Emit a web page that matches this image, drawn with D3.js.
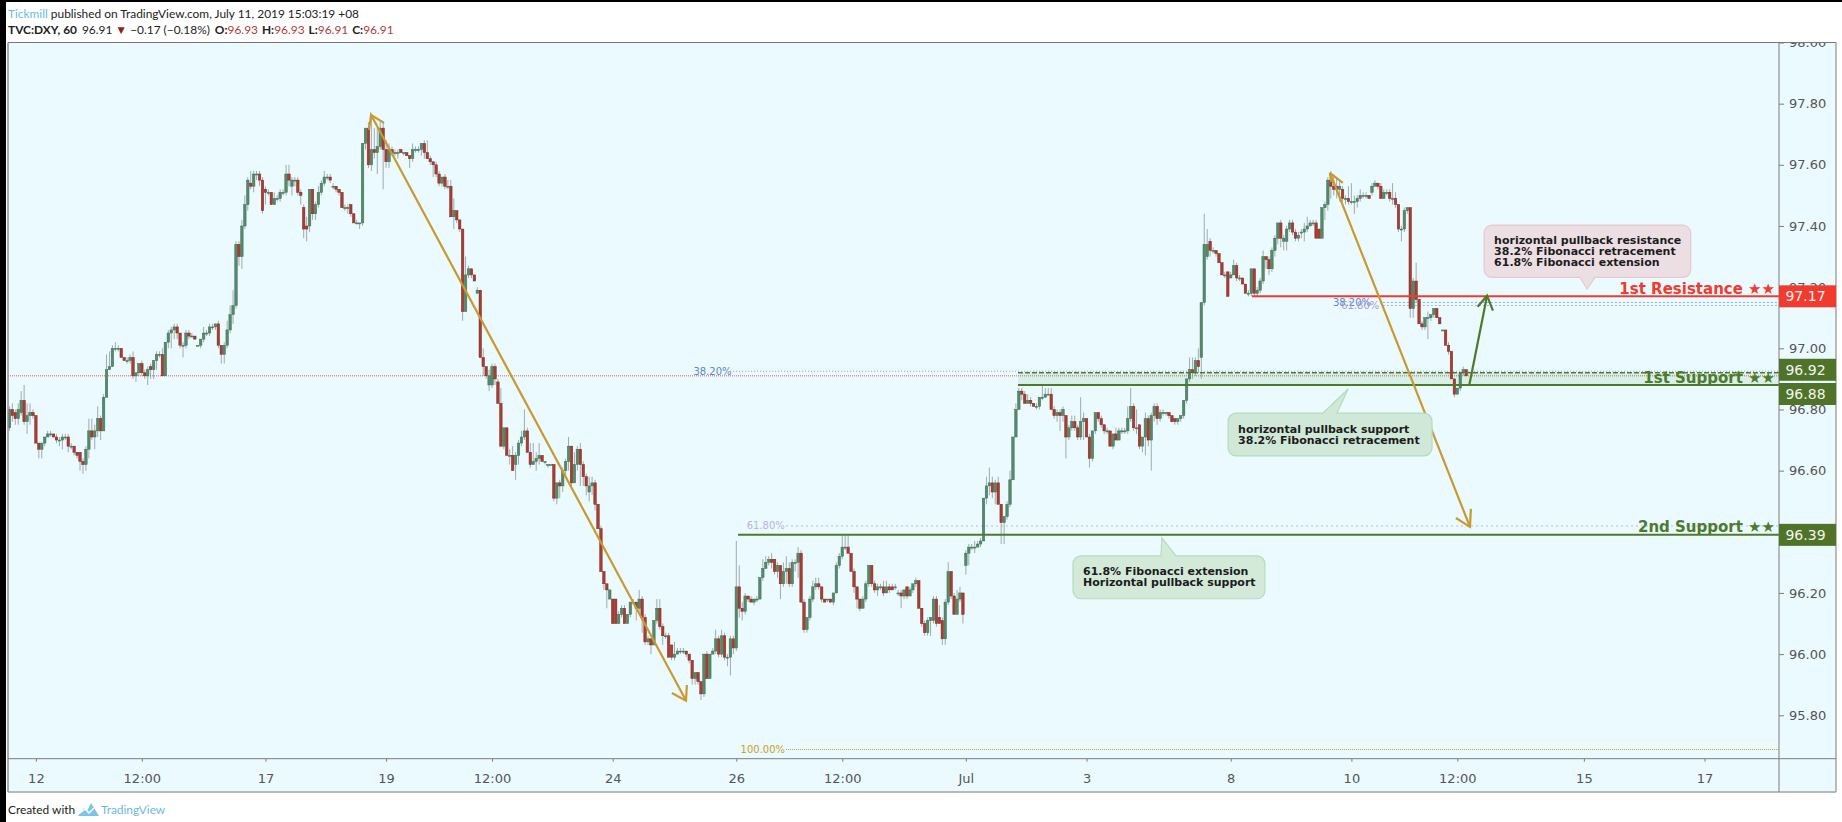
<!DOCTYPE html>
<html>
<head>
<meta charset="utf-8">
<title>DXY 60</title>
<script src="https://cdn.jsdelivr.net/npm/d3@7"></script>
<style>
  html, body { margin: 0; padding: 0; background: #fff; }
  svg { display: block; }
  text { font-family: "DejaVu Sans", sans-serif; }
  .head text, .foot text { font-family: Lato, sans-serif; font-size: 11.9px; fill: #222; }
  .axis text { font-size: 13px; fill: #555; font-family: "DejaVu Sans", sans-serif; }
  .axis path, .axis line { stroke: #7d7d7d; }
  .note { font-size: 11px; font-weight: 700; fill: #1c1c1c; }
  .fib { font-size: 10px; }
  .tag { font-size: 14px; fill: #f4f4f0; text-anchor: middle; dominant-baseline: central; }
</style>
</head>
<body>
<div id="chart"></div>
<script>
// hourly candles
const opens = [
  96.74,96.80,96.79,96.77,96.79,96.83,96.76,96.78,96.79,96.78,
  96.69,96.67,96.69,96.71,96.72,96.72,96.71,96.70,96.70,96.71,
  96.71,96.68,96.68,96.66,96.66,96.63,96.62,96.67,96.73,96.71,
  96.73,96.77,96.73,96.84,96.93,96.94,97.00,97.00,97.00,96.97,
  96.96,96.96,96.97,96.91,96.92,96.95,96.92,96.91,96.94,96.93,
  96.96,96.98,96.98,96.91,97.02,97.05,97.06,97.07,97.05,97.01,
  97.01,97.05,97.04,97.04,97.01,97.01,97.03,97.05,97.05,97.07,
  97.07,97.08,97.01,96.98,97.01,97.06,97.11,97.14,97.34,97.30,
  97.40,97.47,97.54,97.53,97.57,97.57,97.55,97.52,97.51,97.51,
  97.47,97.49,97.49,97.51,97.51,97.57,97.53,97.55,97.55,97.51,
  97.46,97.40,97.40,97.52,97.44,97.47,97.51,97.54,97.56,97.56,
  97.53,97.53,97.52,97.51,97.46,97.46,97.47,97.44,97.41,97.41,
  97.41,97.67,97.72,97.60,97.65,97.64,97.66,97.72,97.65,97.61,
  97.65,97.64,97.64,97.65,97.64,97.64,97.63,97.62,97.65,97.65,
  97.65,97.67,97.64,97.62,97.61,97.60,97.57,97.54,97.56,97.53,
  97.53,97.43,97.45,97.42,97.39,97.12,97.24,97.26,97.24,97.18,
  97.19,96.97,96.94,96.88,96.88,96.94,96.89,96.82,96.68,96.74,
  96.65,96.65,96.62,96.65,96.69,96.71,96.73,96.66,96.62,96.63,
  96.64,96.65,96.63,96.62,96.62,96.62,96.51,96.56,96.55,96.60,
  96.63,96.68,96.56,96.62,96.67,96.62,96.58,96.53,96.55,96.56,
  96.49,96.41,96.27,96.23,96.18,96.18,96.18,96.10,96.13,96.15,
  96.10,96.13,96.17,96.17,96.15,96.18,96.12,96.04,96.05,96.03,
  96.11,96.15,96.09,96.06,96.06,96.03,95.99,96.00,96.01,96.01,
  96.01,96.00,95.98,95.92,95.94,95.91,95.87,96.00,95.92,96.00,
  96.01,96.05,96.00,96.06,95.99,95.99,96.05,96.02,96.22,96.15,
  96.14,96.19,96.18,96.17,96.18,96.18,96.25,96.28,96.30,96.31,
  96.31,96.27,96.29,96.23,96.27,96.28,96.23,96.30,96.30,96.33,
  96.17,96.08,96.12,96.18,96.22,96.23,96.22,96.18,96.18,96.18,
  96.17,96.20,96.29,96.32,96.35,96.35,96.33,96.27,96.22,96.18,
  96.15,96.18,96.23,96.29,96.23,96.21,96.22,96.22,96.20,96.22,
  96.22,96.22,96.20,96.20,96.19,96.22,96.19,96.21,96.23,96.24,
  96.15,96.10,96.07,96.11,96.11,96.18,96.12,96.11,96.05,96.17,
  96.27,96.19,96.13,96.18,96.20,96.29,96.33,96.35,96.35,96.35,
  96.36,96.37,96.51,96.55,96.56,96.53,96.56,96.49,96.43,96.45,
  96.49,96.57,96.71,96.80,96.86,96.85,96.82,96.83,96.82,96.81,
  96.81,96.84,96.84,96.85,96.85,96.80,96.78,96.79,96.78,96.78,
  96.71,96.74,96.76,96.74,96.71,96.76,96.77,96.71,96.64,96.73,
  96.79,96.77,96.75,96.73,96.73,96.68,96.72,96.70,96.73,96.73,
  96.73,96.77,96.81,96.74,96.75,96.68,96.71,96.77,96.70,96.78,
  96.81,96.77,96.79,96.79,96.79,96.78,96.77,96.76,96.77,96.78,
  96.83,96.90,96.93,96.92,96.96,96.97,97.15,97.30,97.35,97.32,
  97.32,97.31,97.28,97.24,97.25,97.23,97.24,97.27,97.23,97.23,
  97.21,97.18,97.18,97.26,97.18,97.19,97.22,97.30,97.29,97.26,
  97.32,97.36,97.41,97.35,97.35,97.39,97.41,97.38,97.36,97.38,
  97.38,97.39,97.40,97.41,97.41,97.39,97.36,97.46,97.47,97.55,
  97.53,97.53,97.52,97.52,97.49,97.49,97.48,97.48,97.48,97.49,
  97.50,97.50,97.50,97.51,97.53,97.54,97.53,97.49,97.51,97.51,
  97.49,97.49,97.47,97.39,97.39,97.45,97.46,97.13,97.22,97.16,
  97.08,97.07,97.10,97.10,97.11,97.13,97.10,97.06,97.06,97.01,
  96.99,96.90,96.85,96.87,96.92,96.93
];
const highs = [
  96.81,96.82,96.80,96.82,96.86,96.88,96.82,96.82,96.80,96.78,
  96.69,96.69,96.71,96.73,96.73,96.72,96.72,96.71,96.72,96.72,
  96.72,96.69,96.68,96.66,96.66,96.64,96.68,96.77,96.77,96.75,
  96.81,96.78,96.85,96.98,96.99,97.01,97.02,97.01,97.00,96.97,
  96.97,96.98,96.99,96.92,96.95,96.96,96.93,96.94,96.95,96.96,
  96.99,96.99,97.00,97.02,97.06,97.07,97.08,97.08,97.05,97.02,
  97.06,97.06,97.05,97.04,97.01,97.03,97.07,97.06,97.08,97.08,
  97.08,97.09,97.01,97.02,97.09,97.14,97.19,97.35,97.35,97.42,
  97.50,97.56,97.58,97.58,97.58,97.58,97.56,97.53,97.52,97.51,
  97.51,97.50,97.52,97.52,97.60,97.60,97.56,97.56,97.56,97.52,
  97.47,97.43,97.52,97.52,97.48,97.53,97.55,97.58,97.57,97.57,
  97.54,97.53,97.52,97.51,97.47,97.47,97.47,97.44,97.42,97.41,
  97.67,97.72,97.74,97.75,97.72,97.72,97.74,97.74,97.68,97.67,
  97.66,97.65,97.65,97.65,97.64,97.64,97.63,97.67,97.66,97.66,
  97.67,97.68,97.68,97.63,97.61,97.61,97.58,97.56,97.57,97.55,
  97.55,97.49,97.45,97.42,97.39,97.30,97.27,97.26,97.24,97.20,
  97.19,97.00,96.94,96.93,96.95,96.95,96.90,96.87,96.74,96.74,
  96.67,96.68,96.66,96.70,96.73,96.80,96.74,96.69,96.69,96.66,
  96.69,96.65,96.63,96.62,96.62,96.62,96.56,96.57,96.61,96.64,
  96.71,96.68,96.66,96.68,96.69,96.63,96.59,96.58,96.58,96.57,
  96.49,96.42,96.27,96.23,96.21,96.18,96.18,96.14,96.16,96.16,
  96.13,96.17,96.18,96.17,96.21,96.19,96.13,96.06,96.05,96.11,
  96.18,96.18,96.10,96.07,96.07,96.03,96.04,96.02,96.02,96.02,
  96.01,96.00,95.98,95.94,95.94,95.91,96.00,96.01,96.00,96.02,
  96.08,96.06,96.08,96.07,96.00,96.06,96.06,96.37,96.29,96.17,
  96.20,96.19,96.19,96.18,96.19,96.25,96.31,96.32,96.32,96.33,
  96.31,96.30,96.29,96.30,96.32,96.30,96.31,96.31,96.35,96.34,
  96.18,96.12,96.19,96.24,96.25,96.25,96.22,96.18,96.18,96.18,
  96.20,96.30,96.33,96.39,96.39,96.39,96.33,96.28,96.22,96.18,
  96.19,96.24,96.29,96.29,96.24,96.23,96.23,96.24,96.24,96.23,
  96.23,96.23,96.21,96.21,96.21,96.22,96.22,96.23,96.25,96.24,
  96.15,96.11,96.12,96.12,96.19,96.19,96.16,96.12,96.18,96.30,
  96.27,96.20,96.21,96.22,96.20,96.34,96.36,96.36,96.37,96.37,
  96.38,96.51,96.58,96.61,96.58,96.57,96.58,96.49,96.45,96.50,
  96.60,96.71,96.82,96.87,96.87,96.86,96.85,96.84,96.82,96.82,
  96.84,96.88,96.87,96.87,96.87,96.81,96.80,96.80,96.81,96.78,
  96.75,96.78,96.78,96.75,96.84,96.79,96.77,96.72,96.73,96.79,
  96.79,96.78,96.75,96.74,96.73,96.72,96.74,96.74,96.74,96.74,
  96.81,96.87,96.82,96.80,96.75,96.71,96.79,96.78,96.79,96.82,
  96.82,96.80,96.80,96.79,96.79,96.78,96.77,96.77,96.78,96.83,
  96.90,96.97,96.97,96.97,97.00,97.15,97.44,97.39,97.36,97.33,
  97.32,97.31,97.28,97.25,97.25,97.25,97.29,97.28,97.24,97.23,
  97.21,97.19,97.26,97.26,97.20,97.23,97.32,97.30,97.30,97.33,
  97.37,97.41,97.42,97.37,97.40,97.42,97.42,97.39,97.38,97.39,
  97.41,97.43,97.42,97.42,97.42,97.39,97.46,97.48,97.56,97.58,
  97.57,97.56,97.55,97.53,97.50,97.53,97.54,97.50,97.50,97.52,
  97.51,97.51,97.50,97.54,97.55,97.54,97.54,97.52,97.52,97.52,
  97.54,97.51,97.47,97.40,97.46,97.46,97.46,97.23,97.28,97.16,
  97.09,97.10,97.12,97.11,97.13,97.13,97.10,97.06,97.06,97.02,
  96.99,96.90,96.87,96.92,96.94,96.93
];
const lows = [
  96.73,96.76,96.75,96.75,96.78,96.75,96.72,96.75,96.77,96.69,
  96.64,96.64,96.68,96.71,96.71,96.71,96.69,96.68,96.67,96.70,
  96.66,96.67,96.65,96.64,96.60,96.59,96.60,96.64,96.70,96.67,
  96.71,96.70,96.73,96.84,96.93,96.94,96.99,96.99,96.97,96.96,
  96.95,96.95,96.90,96.89,96.91,96.91,96.90,96.88,96.90,96.90,
  96.93,96.97,96.91,96.91,97.00,97.00,97.03,97.03,97.00,96.97,
  97.00,97.03,97.04,97.03,97.01,97.00,97.02,97.04,97.04,97.06,
  97.06,97.00,96.95,96.95,97.00,97.05,97.08,97.13,97.27,97.26,
  97.39,97.45,97.52,97.51,97.55,97.53,97.44,97.47,97.50,97.47,
  97.47,97.48,97.48,97.50,97.50,97.53,97.50,97.53,97.50,97.47,
  97.36,97.35,97.38,97.42,97.42,97.46,97.50,97.53,97.55,97.54,
  97.52,97.51,97.50,97.46,97.45,97.44,97.43,97.41,97.41,97.39,
  97.40,97.65,97.59,97.58,97.62,97.57,97.65,97.52,97.59,97.59,
  97.63,97.63,97.62,97.64,97.63,97.63,97.59,97.61,97.64,97.64,
  97.63,97.62,97.62,97.60,97.56,97.56,97.53,97.53,97.52,97.52,
  97.43,97.39,97.41,97.38,97.09,97.12,97.23,97.23,97.22,97.18,
  96.97,96.91,96.90,96.86,96.87,96.88,96.82,96.68,96.67,96.65,
  96.62,96.60,96.57,96.62,96.68,96.70,96.66,96.61,96.62,96.60,
  96.62,96.63,96.62,96.61,96.62,96.50,96.49,96.51,96.53,96.58,
  96.60,96.55,96.56,96.60,96.55,96.55,96.52,96.50,96.52,96.47,
  96.41,96.27,96.21,96.15,96.18,96.10,96.10,96.10,96.12,96.10,
  96.10,96.12,96.16,96.11,96.14,96.07,96.03,96.03,96.00,96.03,
  96.10,96.08,96.03,96.05,95.99,95.98,95.98,96.00,96.00,96.00,
  95.99,95.97,95.90,95.90,95.90,95.85,95.86,95.92,95.92,96.00,
  96.00,95.99,95.99,95.98,95.96,95.93,96.00,96.01,96.12,96.11,
  96.13,96.17,96.17,96.16,96.17,96.18,96.24,96.28,96.29,96.28,
  96.26,96.25,96.18,96.22,96.23,96.22,96.22,96.27,96.25,96.17,
  96.07,96.07,96.11,96.17,96.21,96.21,96.17,96.17,96.17,96.17,
  96.16,96.20,96.28,96.31,96.34,96.33,96.27,96.20,96.15,96.14,
  96.15,96.17,96.22,96.22,96.20,96.19,96.21,96.19,96.20,96.20,
  96.21,96.21,96.19,96.15,96.18,96.18,96.19,96.20,96.22,96.15,
  96.09,96.06,96.06,96.06,96.10,96.09,96.10,96.03,96.03,96.16,
  96.18,96.13,96.13,96.17,96.10,96.26,96.29,96.34,96.33,96.35,
  96.35,96.37,96.49,96.52,96.51,96.49,96.49,96.36,96.36,96.44,
  96.48,96.57,96.71,96.80,96.83,96.82,96.82,96.81,96.81,96.80,
  96.80,96.83,96.84,96.85,96.80,96.77,96.76,96.73,96.76,96.64,
  96.70,96.73,96.73,96.70,96.70,96.70,96.71,96.61,96.63,96.72,
  96.76,96.74,96.72,96.72,96.68,96.67,96.70,96.70,96.72,96.72,
  96.72,96.76,96.73,96.72,96.67,96.66,96.65,96.68,96.60,96.76,
  96.75,96.76,96.78,96.78,96.77,96.76,96.75,96.75,96.76,96.77,
  96.82,96.89,96.90,96.91,96.92,96.90,97.14,97.29,97.30,97.31,
  97.30,97.28,97.24,97.23,97.17,97.23,97.24,97.22,97.22,97.21,
  97.18,97.17,97.17,97.17,97.17,97.18,97.21,97.26,97.24,97.25,
  97.30,97.34,97.33,97.32,97.32,97.38,97.37,97.35,97.35,97.36,
  97.35,97.38,97.40,97.40,97.36,97.36,97.36,97.42,97.45,97.49,
  97.50,97.49,97.48,97.48,97.47,97.47,97.47,97.44,97.46,97.48,
  97.49,97.49,97.49,97.50,97.53,97.52,97.49,97.49,97.50,97.48,
  97.47,97.46,97.38,97.35,97.38,97.44,97.10,97.10,97.15,97.08,
  97.06,97.06,97.03,97.09,97.10,97.10,97.08,97.06,97.01,96.98,
  96.90,96.84,96.85,96.86,96.91,96.91
];
const closes = [
  96.80,96.78,96.77,96.80,96.83,96.76,96.78,96.79,96.78,96.69,
  96.67,96.69,96.71,96.72,96.72,96.71,96.70,96.70,96.71,96.71,
  96.68,96.68,96.66,96.65,96.63,96.62,96.67,96.73,96.71,96.73,
  96.77,96.73,96.84,96.93,96.94,97.00,97.00,97.00,96.97,96.96,
  96.96,96.97,96.91,96.92,96.95,96.92,96.91,96.93,96.93,96.96,
  96.98,96.98,96.91,97.02,97.05,97.06,97.07,97.05,97.01,97.01,
  97.05,97.04,97.04,97.03,97.01,97.03,97.05,97.05,97.07,97.07,
  97.08,97.01,96.98,97.01,97.06,97.11,97.14,97.34,97.30,97.40,
  97.47,97.55,97.53,97.57,97.57,97.55,97.45,97.51,97.51,97.47,
  97.49,97.49,97.51,97.51,97.57,97.55,97.55,97.55,97.51,97.50,
  97.39,97.39,97.52,97.44,97.47,97.51,97.54,97.56,97.56,97.55,
  97.53,97.52,97.51,97.46,97.46,97.46,97.44,97.41,97.41,97.41,
  97.67,97.72,97.60,97.65,97.64,97.66,97.72,97.65,97.61,97.65,
  97.64,97.64,97.64,97.64,97.64,97.63,97.62,97.65,97.65,97.65,
  97.67,97.64,97.62,97.61,97.60,97.57,97.54,97.56,97.53,97.53,
  97.43,97.45,97.42,97.39,97.12,97.24,97.26,97.24,97.22,97.19,
  96.97,96.94,96.91,96.91,96.94,96.90,96.82,96.68,96.74,96.65,
  96.65,96.60,96.65,96.69,96.71,96.73,96.66,96.62,96.63,96.64,
  96.65,96.63,96.63,96.62,96.62,96.51,96.56,96.55,96.60,96.63,
  96.68,96.56,96.62,96.67,96.62,96.58,96.55,96.55,96.56,96.49,
  96.41,96.27,96.23,96.21,96.21,96.10,96.10,96.13,96.15,96.10,
  96.13,96.17,96.17,96.15,96.18,96.12,96.04,96.05,96.03,96.11,
  96.15,96.09,96.06,96.06,95.99,95.99,96.00,96.01,96.01,96.01,
  96.00,95.98,95.92,95.94,95.91,95.87,96.00,95.92,96.00,96.01,
  96.05,96.00,96.06,95.99,95.99,96.05,96.02,96.22,96.15,96.14,
  96.19,96.18,96.17,96.18,96.18,96.25,96.28,96.30,96.31,96.30,
  96.27,96.29,96.23,96.27,96.28,96.23,96.30,96.30,96.33,96.17,
  96.08,96.12,96.18,96.22,96.23,96.22,96.18,96.17,96.18,96.17,
  96.20,96.29,96.32,96.35,96.35,96.33,96.27,96.22,96.18,96.15,
  96.18,96.23,96.29,96.23,96.21,96.22,96.22,96.20,96.22,96.21,
  96.21,96.22,96.20,96.19,96.21,96.19,96.21,96.23,96.24,96.15,
  96.10,96.07,96.11,96.12,96.18,96.10,96.10,96.05,96.17,96.27,
  96.19,96.13,96.18,96.20,96.13,96.33,96.35,96.35,96.35,96.36,
  96.37,96.51,96.55,96.56,96.53,96.56,96.49,96.43,96.45,96.49,
  96.57,96.71,96.80,96.86,96.85,96.82,96.83,96.82,96.81,96.81,
  96.84,96.84,96.85,96.85,96.80,96.78,96.79,96.78,96.80,96.71,
  96.74,96.76,96.74,96.71,96.76,96.77,96.71,96.64,96.73,96.79,
  96.77,96.75,96.73,96.73,96.68,96.72,96.70,96.73,96.73,96.73,
  96.77,96.81,96.74,96.74,96.68,96.71,96.77,96.70,96.78,96.81,
  96.77,96.79,96.79,96.79,96.78,96.76,96.76,96.77,96.78,96.83,
  96.90,96.93,96.92,96.96,96.94,97.15,97.34,97.34,97.32,97.32,
  97.31,97.28,97.24,97.24,97.17,97.24,97.27,97.23,97.23,97.21,
  97.18,97.18,97.26,97.18,97.19,97.22,97.30,97.29,97.26,97.32,
  97.36,97.41,97.36,97.36,97.39,97.41,97.38,97.36,97.37,97.38,
  97.39,97.40,97.41,97.41,97.36,97.36,97.46,97.47,97.55,97.53,
  97.52,97.52,97.53,97.49,97.49,97.48,97.48,97.48,97.49,97.50,
  97.50,97.50,97.49,97.53,97.54,97.53,97.49,97.51,97.51,97.49,
  97.49,97.47,97.39,97.39,97.45,97.46,97.13,97.22,97.16,97.08,
  97.07,97.10,97.10,97.11,97.13,97.10,97.08,97.06,97.01,96.99,
  96.90,96.85,96.87,96.92,96.93,96.91
];

const priceTicks = [98, 97.8, 97.6, 97.4, 97.2, 97, 96.8, 96.6, 96.4, 96.2, 96, 95.8];
const timeBars = [9, 45, 87, 128, 164, 205, 247, 283, 325, 366, 415, 456, 492, 535, 576];
const timeLabels = ['12', '12:00', '17', '19', '12:00', '24', '26', '12:00', 'Jul', '3', '8', '10', '12:00', '15', '17'];

const lastPrice = 96.91;
const resistance = 97.17;
const support1 = 96.88;
const support1Top = 96.92;
const support2 = 96.39;
const fib382 = 96.925;
const fib618 = 96.419;
const fib100 = 95.688;
const fib382Up = 97.15;
const fib618Up = 97.14;
const lastBarEdge = 601.3;

const W = 1842, H = 822;
const plot = { left: 8, top: 42.5, right: 1779, bottom: 758.7, edge: 1836, base: 792 };

const gold = '#c89a30', greenLine = '#4f7a2c', redLine = '#f23b2f';
const upFill = '#55896a', upEdge = '#3f7252', downFill = '#a83d30', downEdge = '#7f2a22';

const x = d3.scaleLinear().domain([0, lastBarEdge]).range([9.4, plot.right]);
const y = d3.scaleLinear().domain([98, 95.658]).range([plot.top, plot.bottom]);

const svg = d3.select('#chart').append('svg').attr('width', W).attr('height', H);

svg.append('rect').attr('x', plot.left).attr('y', plot.top)
  .attr('width', plot.edge - plot.left).attr('height', plot.base - plot.top).attr('fill', '#ebfaff');

// page edges
svg.append('rect').attr('width', W).attr('height', 2).attr('fill', '#000');
svg.append('rect').attr('width', 6).attr('height', H).attr('fill', '#000');

// header
const head = svg.append('g').attr('class', 'head');
const l1 = head.append('text').attr('x', 8).attr('y', 18);
l1.append('tspan').style('fill', '#6cb9e6').text('Tickmill');
l1.append('tspan').text(' published on TradingView.com, July 11, 2019 15:03:19 +08');
const l2 = head.append('text').attr('x', 8).attr('y', 34);
l2.append('tspan').attr('font-weight', 700).text('TVC:DXY, 60');
l2.append('tspan').attr('dx', 5).text('96.91');
l2.append('tspan').attr('dx', 3).style('fill', '#8e1f14').text('\u25BC');
l2.append('tspan').attr('dx', 3).text('\u22120.17 (\u22120.18%)');
[['O:', '96.93'], ['H:', '96.93'], ['L:', '96.91'], ['C:', '96.91']].forEach(([k, v], i) => {
  l2.append('tspan').attr('dx', i === 0 ? 5 : 4).attr('font-weight', 700).text(k);
  l2.append('tspan').style('fill', '#b23a30').text(v);
});

// fib levels and last price
const dotted = (price, from, color, dash) => svg.append('line')
  .attr('x1', x(from)).attr('x2', plot.right).attr('y1', y(price)).attr('y2', y(price))
  .attr('stroke', color).attr('stroke-width', 1).attr('stroke-dasharray', dash);

svg.append('rect').attr('x', x(342.7)).attr('width', plot.right - x(342.7))
  .attr('y', y(support1Top)).attr('height', y(support1) - y(support1Top))
  .attr('fill', '#4caf50').attr('fill-opacity', 0.12);

dotted(lastPrice, 0, '#c9665c', '1 1').attr('x1', plot.left);
dotted(fib382, 244.9, '#7f9fd6', '1 2');
dotted(fib618, 263.9, '#bdb4e6', '2 3');
dotted(fib100, 263.9, '#c9a227', '1 1');
dotted(fib382Up, 466.7, '#7faee6', '2 2');
dotted(fib618Up, 466.7, '#a9b4e6', '2 2');

const fibLabel = (bar, price, color, t) => svg.append('text').attr('class', 'fib')
  .attr('x', x(bar)).attr('y', y(price)).attr('dy', '0.35em').attr('text-anchor', 'middle')
  .attr('fill', color).text(t);
fibLabel(238.9, fib382, '#5b87c7', '38.20%');
fibLabel(257, fib618, '#bdb0e4', '61.80%');
fibLabel(256, fib100, '#c9a227', '100.00%');
fibLabel(456.2, fib382Up, '#5b87c7', '38.20%');
fibLabel(459, fib618Up, '#a79bd8', '61.80%');

// candles
const bars = d3.range(opens.length);
const candles = svg.append('g').style('filter', 'blur(0.35px)');
candles.selectAll('line').data(bars).join('line')
  .attr('x1', i => x(i)).attr('x2', i => x(i))
  .attr('y1', i => y(highs[i])).attr('y2', i => y(lows[i]))
  .attr('stroke', '#8a8f90').attr('stroke-opacity', 0.75).attr('stroke-width', 1);
candles.selectAll('rect').data(bars).join('rect')
  .attr('x', i => x(i) - 1.25).attr('width', 2.5)
  .attr('y', i => y(Math.max(opens[i], closes[i])))
  .attr('height', i => Math.max(1, Math.abs(y(opens[i]) - y(closes[i]))))
  .attr('fill', i => closes[i] >= opens[i] ? upFill : downFill)
  .attr('stroke', i => closes[i] >= opens[i] ? upEdge : downEdge)
  .attr('stroke-width', 0.5);

// support / resistance lines
const level = (price, from, color, w) => svg.append('line')
  .attr('x1', x(from)).attr('x2', plot.right).attr('y1', y(price)).attr('y2', y(price))
  .attr('stroke', color).attr('stroke-width', w);
level(resistance, 422.2, redLine, 2);
level(support1, 342.7, greenLine, 2);
level(support1Top, 342.7, greenLine, 1.5).attr('stroke-dasharray', '5 2');
level(support2, 247.6, greenLine, 2);

// arrows: [bar, price]
const lineGen = d3.line().x(d => x(d[0])).y(d => y(d[1]));
const polys = [
  { color: gold, pts: [[122.2, 97.714], [122.9, 97.763], [229.9, 95.848]] },
  { color: gold, pts: [[122.9, 97.763], [127.3, 97.737]] },
  { color: gold, pts: [[225.1, 95.873], [229.9, 95.848], [230.2, 95.899]] },
  { color: gold, pts: [[449.1, 97.544], [448.7, 97.574], [496.3, 96.416]] },
  { color: gold, pts: [[448.7, 97.574], [453.1, 97.541]] },
  { color: gold, pts: [[491.5, 96.445], [496.3, 96.416], [496.6, 96.475]] },
  { color: greenLine, pts: [[496, 96.877], [502.1, 97.172]] },
  { color: greenLine, pts: [[498.9, 97.136], [502.1, 97.172], [504.1, 97.123]] }
];
svg.append('g').selectAll('path').data(polys).join('path')
  .attr('d', d => lineGen(d.pts)).attr('fill', 'none')
  .attr('stroke', d => d.color).attr('stroke-width', 2.2);

// callouts
const notes = [
  { b0: 501.1, b1: 571.3, p0: 97.403, p1: 97.232, tip: [536.1, 97.194], base: [533.7, 538.8],
    fill: '#ecdfe3', edge: '#e8c8cc',
    lines: ['horizontal pullback resistance', '38.2% Fibonacci retracement', '61.8% Fibonacci extension'] },
  { b0: 414.1, b1: 483.4, p0: 96.788, p1: 96.648, tip: [454.9, 96.867], base: [446.3, 451.1],
    fill: '#cfe8d7', edge: '#b5dcbb',
    lines: ['horizontal pullback support', '38.2% Fibonacci retracement'] },
  { b0: 361.4, b1: 426.6, p0: 96.321, p1: 96.181, tip: [391.6, 96.38], base: [391.3, 396.4],
    fill: '#d3ead9', edge: '#b5dcbb',
    lines: ['61.8% Fibonacci extension', 'Horizontal pullback support'] }
];
const calloutPath = n => {
  const l = x(n.b0), r = x(n.b1), t = y(n.p0), b = y(n.p1), c = 8;
  const tipY = y(n.tip[1]);
  const p = d3.path();
  p.moveTo(l + c, t);
  if (tipY < t) {
    p.lineTo(x(n.base[0]), t);
    p.lineTo(x(n.tip[0]), tipY);
    p.lineTo(x(n.base[1]), t);
  }
  p.lineTo(r - c, t);
  p.arcTo(r, t, r, t + c, c);
  p.lineTo(r, b - c);
  p.arcTo(r, b, r - c, b, c);
  if (tipY > b) {
    p.lineTo(x(n.base[1]), b);
    p.lineTo(x(n.tip[0]), tipY);
    p.lineTo(x(n.base[0]), b);
  }
  p.lineTo(l + c, b);
  p.arcTo(l, b, l, b - c, c);
  p.lineTo(l, t + c);
  p.arcTo(l, t, l + c, t, c);
  p.closePath();
  return p.toString();
};
const noteG = svg.append('g').selectAll('g').data(notes).join('g');
noteG.append('path').attr('d', calloutPath).attr('fill', d => d.fill).attr('stroke', d => d.edge).attr('stroke-width', 1.2);
noteG.each(function (d) {
  const mid = (y(d.p0) + y(d.p1)) / 2;
  d.lines.forEach((t, i) => {
    d3.select(this).append('text').attr('class', 'note')
      .attr('x', x(d.b0) + 10)
      .attr('y', mid + (i - (d.lines.length - 1) / 2) * 11 + 3.5)
      .text(t);
  });
});

// level labels
const levelLabels = [
  { t: '1st Resistance \u2605\u2605', price: resistance, color: redLine, dy: -2.6 },
  { t: '1st Support \u2605\u2605', price: support1, color: greenLine, dy: -2 },
  { t: '2nd Support \u2605\u2605', price: support2, color: greenLine, dy: -3 }
];
svg.append('g').selectAll('text').data(levelLabels).join('text')
  .attr('x', x(lastBarEdge) - 4).attr('y', d => y(d.price) + d.dy)
  .attr('text-anchor', 'end').attr('font-size', 15).attr('font-weight', 700)
  .attr('fill', d => d.color).text(d => d.t);

// axes
svg.append('clipPath').attr('id', 'pane').append('rect')
  .attr('x', plot.right - 1).attr('y', plot.top)
  .attr('width', plot.edge - plot.right + 2).attr('height', plot.base - plot.top);

const yAxis = svg.append('g').attr('clip-path', 'url(#pane)').append('g').attr('class', 'axis')
  .attr('transform', `translate(${plot.right},0)`)
  .call(d3.axisRight(y).tickValues(priceTicks).tickFormat(d3.format('.2f')).tickSize(5).tickPadding(5));
yAxis.select('.domain').remove();

const xAxis = svg.append('g').attr('class', 'axis')
  .attr('transform', `translate(0,${plot.bottom})`)
  .call(d3.axisBottom(x).tickValues(timeBars).tickFormat((d, i) => timeLabels[i]).tickSize(3).tickPadding(12));
xAxis.select('.domain').remove();

// frame
const rule = (x1, y1, x2, y2, c, w) => svg.append('line')
  .attr('x1', x1).attr('y1', y1).attr('x2', x2).attr('y2', y2).attr('stroke', c).attr('stroke-width', w);
rule(plot.left, plot.top, plot.edge, plot.top, '#777', 1);
rule(plot.left, plot.top, plot.left, plot.base, '#8f8f8f', 1.5);
rule(plot.left, plot.base, plot.edge, plot.base, '#a5a5a5', 1.5);
rule(plot.edge, plot.top, plot.edge, plot.base, '#a5a5a5', 1.5);
rule(plot.right, plot.top, plot.right, plot.base, '#7d7d7d', 1);
rule(plot.left, plot.bottom, plot.edge, plot.bottom, '#7d7d7d', 1);

// price tags
const tags = [
  { v: resistance, color: redLine, c: 97.17 },
  { v: support1Top, color: '#4f7329', c: 96.92 },
  { v: support1, color: '#4f7329', c: 96.88 },
  { v: support2, color: '#4f7329', c: 96.39 }
];
const tagH = 22;
const tagOffset = { 96.92: -3, 96.88: 9 };
const tagG = svg.append('g').selectAll('g').data(tags).join('g')
  .attr('transform', d => `translate(${plot.right},${y(d.v) + (tagOffset[d.c] || 0)})`);
tagG.append('rect').attr('y', -tagH / 2).attr('width', plot.edge - plot.right).attr('height', tagH).attr('fill', d => d.color);
tagG.append('text').attr('class', 'tag').attr('x', (plot.edge - plot.right) / 2 - 2).text(d => d.c.toFixed(2));

// footer
const foot = svg.append('g').attr('class', 'foot');
foot.append('text').attr('x', 8).attr('y', 814).text('Created with');
foot.append('path')
  .attr('d', 'M78 816 L84 808 L87 811 L91 803 L99 816 Z')
  .attr('fill', '#7cc4e6');
foot.append('path')
  .attr('d', 'M80 813 L85 809 L89 813 L94 808')
  .attr('fill', 'none').attr('stroke', '#fff').attr('stroke-width', 1.5);
foot.append('text').attr('x', 101).attr('y', 814).style('fill', '#6cb9e6').text('TradingView');
</script>
</body>
</html>
